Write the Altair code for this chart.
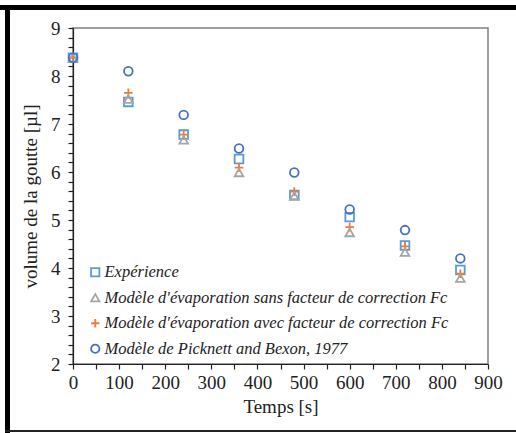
import altair as alt
import pandas as pd

temps = [0, 120, 240, 360, 480, 600, 720, 840]
experience = [8.38, 7.46, 6.78, 6.27, 5.52, 5.06, 4.47, 3.96]
sans_fc = [8.38, 7.52, 6.67, 5.99, 5.50, 4.74, 4.33, 3.79]
avec_fc = [8.38, 7.65, 6.78, 6.09, 5.59, 4.85, 4.45, 3.88]
picknett = [8.38, 8.10, 7.19, 6.49, 5.99, 5.22, 4.79, 4.20]

series = [
    "Expérience",
    "Modèle d'évaporation sans facteur de correction Fc",
    "Modèle d'évaporation avec facteur de correction Fc",
    "Modèle de Picknett and Bexon, 1977",
]
colors = ["#5B9BD5", "#A5A5A5", "#ED7D31", "#4472C4"]
shapes = ["square", "triangle-up", "M-1,0L1,0M0,-1L0,1", "circle"]

rows = []
for name, vals in zip(series, [experience, sans_fc, avec_fc, picknett]):
    for t, v in zip(temps, vals):
        rows.append({"Temps": t, "Volume": v, "Série": name})
df = pd.DataFrame(rows)

y_ticks = [round(2 + 0.2 * i, 1) for i in range(36)]
x_ticks = [50 * i for i in range(19)]

FONT = "Liberation Serif"
LEGEND_FONT = "'Liberation Serif', 'DejaVu Serif', serif"

base = alt.Chart(df)

points = base.mark_point(filled=False, strokeWidth=1.8, size=75, opacity=1).encode(
    x=alt.X(
        "Temps:Q",
        scale=alt.Scale(domain=[0, 900], nice=False),
        axis=alt.Axis(
            title="Temps [s]",
            values=x_ticks,
            format="d",
            labelExpr="datum.value % 100 == 0 ? datum.label : ''",
            labelFlush=False,
            labelOverlap=False,
            grid=False,
            tickSize=5,
            labelPadding=4,
            titlePadding=5,
        ),
    ),
    y=alt.Y(
        "Volume:Q",
        scale=alt.Scale(domain=[2, 9], nice=False),
        axis=alt.Axis(
            title="volume de la goutte [µl]",
            values=y_ticks,
            format=".0f",
            labelExpr="abs(datum.value - round(datum.value)) < 0.01 ? datum.label : ''",
            labelFlush=False,
            labelOverlap=False,
            grid=False,
            tickSize=5,
            labelPadding=8,
            titlePadding=10,
        ),
    ),
    color=alt.Color(
        "Série:N",
        scale=alt.Scale(domain=series, range=colors),
        legend=alt.Legend(
            title=None,
            orient="none",
            legendX=14,
            legendY=236,
            labelFont=LEGEND_FONT,
            labelFontStyle="italic",
            labelFontSize=16.5,
            labelColor="#222222",
            labelLimit=500,
            symbolSize=70,
            symbolStrokeWidth=1.8,
            rowPadding=8.5,
            labelOffset=1,
        ),
    ),
    shape=alt.Shape(
        "Série:N",
        scale=alt.Scale(domain=series, range=shapes),
        legend=None,
    ),
    order=alt.Order("Série:N"),
)

border_top = alt.Chart(df).mark_rule(color="black", strokeWidth=5).encode(
    x=alt.value(-73), x2=alt.value(443), y=alt.value(-20.5)
)
border_left = alt.Chart(df).mark_rule(color="black", strokeWidth=5).encode(
    x=alt.value(-65.5), y=alt.value(-23), y2=alt.value(405)
)
border_bottom = alt.Chart(df).mark_rule(color="#222222", strokeWidth=2).encode(
    x=alt.value(-68), x2=alt.value(443), y=alt.value(403)
)

chart = (
    alt.layer(points, border_top, border_left, border_bottom)
    .properties(
        width=415,
        height=336,
        autosize=alt.AutoSizeParams(type="none"),
        padding={"left": 73, "top": 28, "right": 28, "bottom": 69},
        background="white",
    )
    .configure_view(stroke="#7F7F7F", strokeWidth=1.5)
    .configure_axis(
        labelFont=FONT,
        titleFont=FONT,
        labelFontSize=19,
        titleFontSize=19,
        titleFontWeight="normal",
        labelColor="#222222",
        titleColor="#222222",
        domainColor="#222222",
        tickColor="#222222",
        domainWidth=1.2,
        tickWidth=1.2,
    )
    .configure_legend(
        labelFont=LEGEND_FONT,
        labelFontStyle="italic",
        labelFontSize=16.5,
    )
)

chart.save("out.html", embed_options={"renderer": "svg", "actions": False})
